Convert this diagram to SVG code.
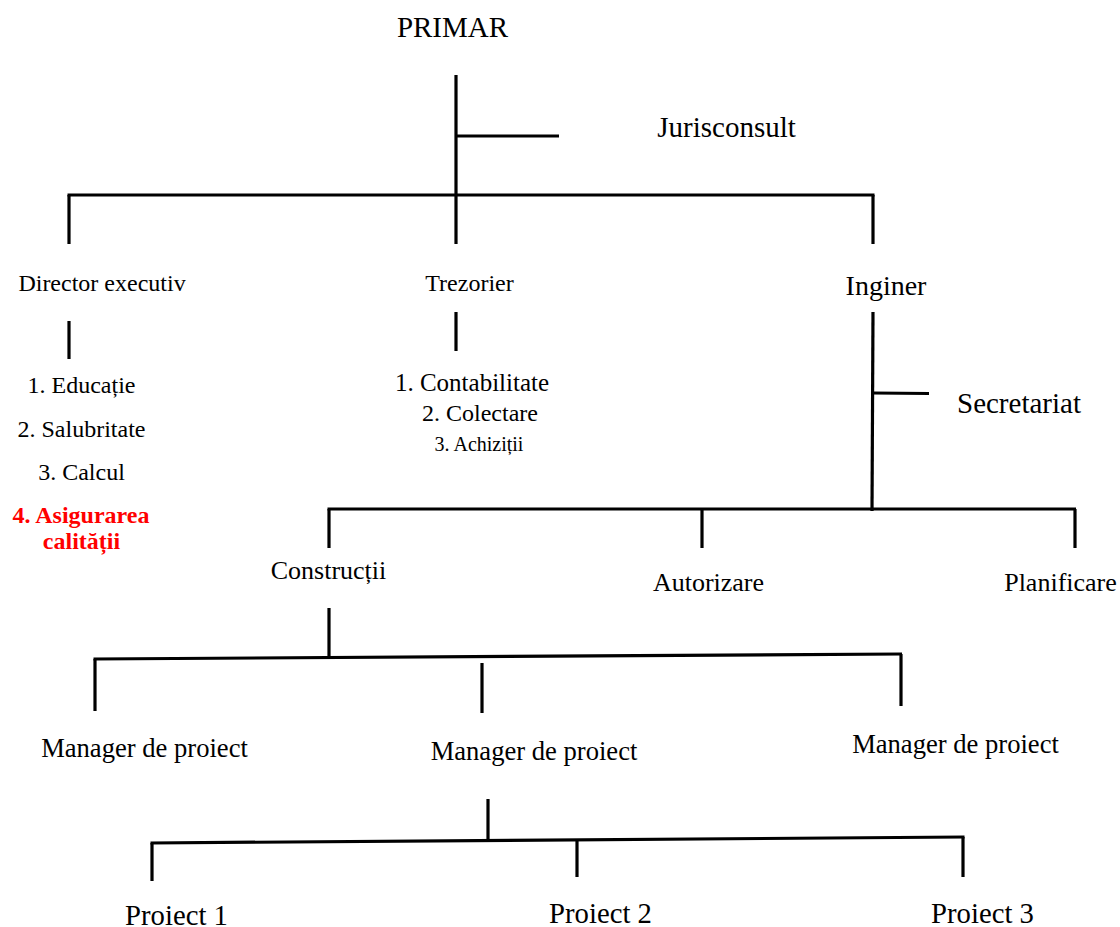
<svg xmlns="http://www.w3.org/2000/svg" width="1120" height="927" viewBox="0 0 1120 927">
<style>
text{font-family:"Liberation Serif","Times New Roman",serif;fill:#000;text-anchor:middle}
.c line{stroke:#000;stroke-width:3.2;stroke-linecap:butt}
.red{fill:#ff0000;font-weight:bold}
</style>
<rect width="1120" height="927" fill="#fff"/>
<g id="connectors" class="c">
<line x1="456" y1="75" x2="456" y2="244"/>
<line x1="456" y1="136" x2="559" y2="136"/>
<line x1="67.5" y1="195" x2="874.5" y2="195"/>
<line x1="69" y1="195" x2="69" y2="244"/>
<line x1="873" y1="195" x2="873" y2="244"/>
<line x1="69" y1="321" x2="69" y2="359"/>
<line x1="456" y1="312" x2="456" y2="351"/>
<line x1="873" y1="312" x2="872" y2="511"/>
<line x1="873" y1="393" x2="929" y2="393.5"/>
<line x1="327.5" y1="509" x2="1076" y2="509"/>
<line x1="329" y1="509" x2="329" y2="548"/>
<line x1="702" y1="509" x2="702" y2="548"/>
<line x1="1075" y1="509" x2="1075" y2="548"/>
<line x1="329" y1="608" x2="329" y2="658"/>
<line x1="93.5" y1="659" x2="902" y2="654"/>
<line x1="95" y1="659" x2="95" y2="711"/>
<line x1="482" y1="663" x2="482" y2="713"/>
<line x1="901" y1="654" x2="901" y2="706"/>
<line x1="488" y1="799" x2="488" y2="839"/>
<line x1="150.5" y1="843" x2="964.5" y2="837"/>
<line x1="152" y1="843" x2="152" y2="881"/>
<line x1="577" y1="840" x2="577" y2="877"/>
<line x1="963" y1="837" x2="963" y2="877"/>
</g>
<g id="primar"><text x="452.5" y="37" font-size="29">PRIMAR</text></g>
<g id="jurisconsult"><text x="726.5" y="137" font-size="29">Jurisconsult</text></g>
<g id="director"><text x="102" y="291" font-size="24">Director executiv</text></g>
<g id="trezorier"><text x="469.5" y="291" font-size="24">Trezorier</text></g>
<g id="inginer"><text x="886" y="295" font-size="28">Inginer</text></g>
<g id="secretariat"><text x="1019" y="413" font-size="29">Secretariat</text></g>
<g id="director-list">
<text x="81.5" y="393" font-size="24">1. Educație</text>
<text x="81.5" y="437" font-size="24">2. Salubritate</text>
<text x="81.5" y="480" font-size="24">3. Calcul</text>
<text class="red" x="81" y="523" font-size="24">4. Asigurarea</text>
<text class="red" x="81.5" y="549" font-size="24">calității</text>
</g>
<g id="trezorier-list">
<text x="472" y="391" font-size="25">1. Contabilitate</text>
<text x="480" y="421" font-size="24">2. Colectare</text>
<text x="479" y="451" font-size="20">3. Achiziții</text>
</g>
<g id="constructii"><text x="328.5" y="579" font-size="26">Construcții</text></g>
<g id="autorizare"><text x="708.5" y="591" font-size="26">Autorizare</text></g>
<g id="planificare"><text x="1060.5" y="591" font-size="26">Planificare</text></g>
<g id="manager1"><text x="144.5" y="757" font-size="26.6">Manager de proiect</text></g>
<g id="manager2"><text x="534" y="760" font-size="26.6">Manager de proiect</text></g>
<g id="manager3"><text x="955.5" y="753" font-size="26.6">Manager de proiect</text></g>
<g id="proiect1"><text x="176.5" y="925" font-size="28.7">Proiect 1</text></g>
<g id="proiect2"><text x="600.5" y="923" font-size="28.7">Proiect 2</text></g>
<g id="proiect3"><text x="982.5" y="923" font-size="28.7">Proiect 3</text></g>
</svg>
